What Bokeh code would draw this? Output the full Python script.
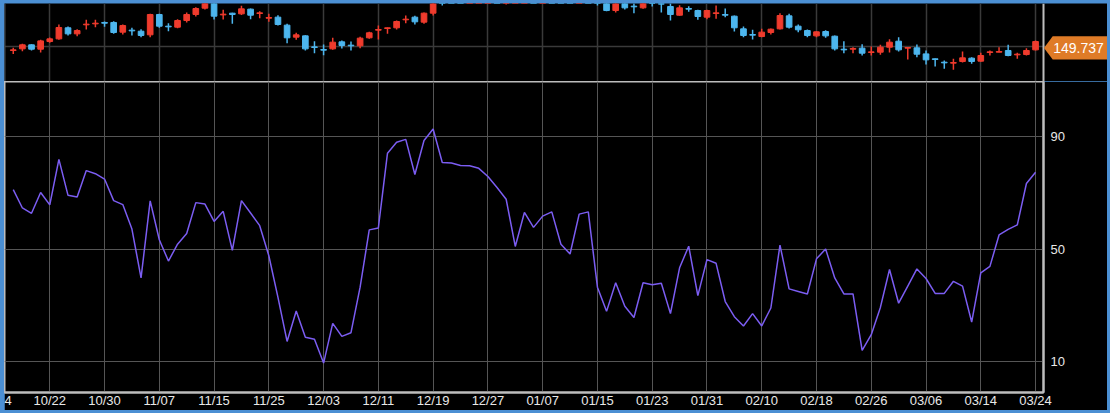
from bokeh.plotting import figure
from bokeh.layouts import column
from bokeh.models import Range1d, FixedTicker, PolyAnnotation, Label, ColumnDataSource, Span
from bokeh.embed import file_html
from bokeh.resources import INLINE

# ---------------- data ----------------
opens = [149.34, 149.59, 150.21, 149.54, 150.72, 151.13, 152.83, 151.90, 153.29, 153.44,
         153.65, 153.65, 152.16, 152.47, 152.31, 151.75, 154.88, 153.08, 152.93, 153.95,
         154.88, 155.85, 156.90, 154.82, 155.08, 154.98, 155.70, 155.03, 154.31, 154.47,
         153.24, 151.39, 151.59, 149.90, 149.49, 149.59, 150.67, 150.16, 150.06, 151.29,
         152.47, 152.72, 152.83, 154.06, 154.47, 153.70, 155.08, 157.90, 157.50, 157.30,
         157.20, 157.30, 157.50, 157.90, 157.20, 157.40, 157.80, 158.00, 157.80, 158.20,
         158.00, 157.70, 157.50, 157.90, 157.90, 156.62, 155.49, 156.62, 156.16, 155.90,
         156.67, 156.57, 156.11, 154.77, 155.80, 155.49, 154.47, 155.03, 154.88, 154.62,
         152.67, 151.80, 151.49, 152.11, 152.67, 154.67, 153.08, 152.41, 151.59, 152.26,
         151.54, 149.54, 149.54, 149.70, 149.03, 149.08, 149.85, 150.77, 149.70, 149.75,
         148.82, 148.06, 147.54, 147.39, 147.65, 148.16, 147.70, 149.03, 149.08, 149.34,
         148.67, 148.72, 149.44]
highs = [149.75, 150.36, 150.31, 150.98, 151.34, 153.34, 153.03, 152.62, 154.06, 154.06,
         153.80, 153.85, 153.34, 152.83, 152.62, 154.98, 154.98, 153.54, 154.16, 155.18,
         156.00, 157.29, 157.30, 155.59, 155.13, 156.21, 155.80, 155.39, 154.98, 154.77,
         153.44, 152.06, 151.70, 150.77, 150.26, 151.29, 150.88, 150.72, 151.44, 152.21,
         153.18, 152.88, 153.95, 154.72, 154.67, 155.18, 156.77, 158.00, 157.90, 157.60,
         157.40, 157.60, 158.00, 158.10, 157.60, 157.90, 158.30, 158.40, 158.40, 158.50,
         158.80, 158.00, 158.10, 158.20, 158.20, 157.18, 156.82, 156.88, 156.62, 156.93,
         157.13, 156.62, 156.62, 156.31, 156.16, 155.59, 155.59, 156.26, 155.80, 154.72,
         153.03, 152.52, 152.67, 152.72, 155.08, 154.98, 153.34, 152.57, 152.31, 152.47,
         151.65, 150.77, 149.85, 150.31, 149.95, 150.21, 151.08, 151.39, 149.85, 150.26,
         149.34, 148.11, 147.80, 148.06, 149.18, 148.31, 148.98, 149.34, 149.85, 150.21,
         148.98, 149.70, 150.88]
lows = [148.82, 149.24, 149.34, 149.03, 150.52, 150.98, 151.65, 151.54, 152.57, 152.93,
        152.98, 151.90, 151.80, 151.65, 151.39, 151.39, 152.83, 152.31, 152.77, 153.65,
        154.57, 155.65, 154.11, 154.11, 153.44, 154.82, 154.16, 154.31, 153.75, 153.18,
        150.47, 150.98, 149.34, 148.93, 148.62, 149.44, 149.65, 149.34, 149.70, 151.13,
        151.03, 151.90, 152.57, 153.54, 153.34, 153.44, 154.72, 156.26, 157.20, 157.10,
        157.10, 157.20, 157.30, 157.30, 156.41, 157.20, 157.50, 157.60, 157.60, 157.80,
        157.30, 157.20, 157.30, 157.20, 156.26, 155.39, 155.18, 155.65, 155.08, 155.75,
        156.11, 155.18, 153.95, 154.67, 155.29, 154.06, 154.16, 154.21, 154.47, 152.26,
        151.39, 151.03, 151.39, 151.80, 152.57, 152.72, 152.16, 151.39, 151.39, 151.29,
        149.34, 148.93, 148.93, 148.57, 148.57, 148.67, 149.03, 149.18, 147.95, 148.31,
        147.18, 146.88, 146.52, 146.36, 147.49, 147.29, 147.59, 148.57, 149.08, 148.47,
        148.06, 148.57, 149.34]
closes = [149.44, 150.21, 149.54, 150.82, 151.13, 152.88, 151.90, 152.41, 153.39, 153.54,
          153.54, 152.11, 153.18, 152.36, 151.65, 154.88, 153.08, 152.98, 153.95, 154.88,
          155.80, 156.62, 154.62, 154.93, 154.88, 155.75, 154.77, 155.13, 154.41, 153.34,
          151.29, 151.75, 149.59, 149.80, 149.39, 150.62, 150.11, 150.06, 151.24, 152.06,
          152.57, 152.83, 153.80, 154.16, 153.75, 155.08, 156.52, 157.30, 157.30, 157.20,
          157.30, 157.50, 157.90, 157.60, 157.40, 157.80, 158.00, 157.80, 158.20, 158.00,
          157.70, 157.50, 157.90, 157.30, 157.20, 155.49, 156.52, 155.90, 156.06, 156.62,
          156.57, 156.47, 154.88, 155.90, 155.70, 154.57, 155.49, 155.13, 154.77, 152.83,
          151.65, 151.70, 152.16, 152.62, 154.72, 152.93, 152.52, 151.65, 152.21, 151.59,
          149.59, 149.44, 149.65, 148.93, 149.13, 149.85, 150.62, 149.44, 149.80, 148.77,
          147.90, 147.95, 147.44, 147.49, 148.21, 147.65, 148.57, 149.13, 149.18, 148.57,
          148.77, 149.34, 150.72]
oscillator = [71.2, 64.7, 62.8, 70.2, 65.8, 82.0, 69.2, 68.6, 78.0, 76.9,
              75.0, 67.3, 65.9, 57.2, 39.8, 67.2, 53.4, 45.8, 51.8, 55.6,
              66.6, 66.1, 59.9, 63.5, 49.6, 67.3, 62.9, 58.4, 47.7, 32.9,
              17.2, 28.0, 18.7, 18.0, 9.5, 23.6, 19.0, 20.3, 36.5, 56.9,
              57.6, 84.2, 88.1, 89.1, 76.6, 88.7, 92.8, 80.9, 80.7, 79.8,
              79.7, 78.8, 75.9, 72.0, 67.8, 51.0, 63.1, 57.8, 61.8, 63.3,
              51.8, 48.3, 62.5, 63.3, 36.5, 27.9, 38.1, 29.7, 25.7, 38.1,
              37.4, 37.9, 27.1, 43.4, 51.1, 33.5, 46.3, 45.0, 31.4, 26.0,
              22.7, 27.1, 22.7, 29.1, 51.5, 35.9, 35.0, 34.1, 46.6, 50.1,
              39.8, 34.1, 34.1, 14.0, 19.6, 29.3, 42.8, 30.8, 36.9, 43.0,
              39.6, 34.3, 34.3, 38.6, 36.9, 24.1, 41.6, 43.9, 55.1, 57.1,
              58.7, 73.4, 77.4]
tick_index = [4, 10, 16, 22, 28, 34, 40, 46, 52, 58, 64, 70, 76, 82, 88, 94, 100, 106, 112]
tick_labels = ["10/22", "10/30", "11/07", "11/15", "11/25", "12/03", "12/11", "12/19", "12/27",
               "01/07", "01/15", "01/23", "01/31", "02/10", "02/18", "02/26", "03/06", "03/14", "03/24"]
cut_label_pos = -0.63      # tail of the clipped "10/14" label at the left edge
cut_label_text = "4"
osc_ticks = [10, 50, 90]
price_grid = [150]
last_price = 149.737

# ---------------- style ----------------
RED = "#ef3b2d"
BLUE = "#4db6ee"
PURPLE = "#7b5df2"
FRAME_BLUE = "#4b8fd3"
ORANGE = "#df7b27"
LIGHT = "#bdbdbd"
TXT = "#e8e8e8"
FONT = "Liberation Sans"

n = len(closes)
idx = list(range(n))
colors = [RED if c >= o else BLUE for o, c in zip(opens, closes)]
src = ColumnDataSource(dict(
    x=idx, o=opens, h=highs, l=lows, c=closes,
    top=[max(o, c) for o, c in zip(opens, closes)],
    bot=[min(o, c) for o, c in zip(opens, closes)],
    col=colors,
))

x_start, x_end = -0.96, 112.87
frame_w = 1039
border_r = 64
ppu = frame_w / (x_end - x_start)
x_range = Range1d(x_start, x_end)
x_range_top = Range1d(x_start, x_start + (frame_w + border_r) / ppu)  # same scale, frame reaches right edge

# ---------------- top (price) panel ----------------
py0, py1 = 144.57, 156.57
p1 = figure(width=frame_w + border_r, height=78, x_range=x_range_top, y_range=Range1d(py0, py1),
            output_backend="svg", toolbar_location=None,
            x_axis_location=None, y_axis_location=None,
            min_border_left=0, min_border_right=0, min_border_top=0, min_border_bottom=0,
            background_fill_color="black", border_fill_color="black",
            outline_line_color=None, margin=(3, 3, 0, 4), frame_align=False)
p1.xgrid.ticker = FixedTicker(ticks=tick_index)
p1.xgrid.grid_line_color = "#3a3a3a"
p1.xgrid.grid_line_width = 1.5
p1.ygrid.ticker = FixedTicker(ticks=price_grid)
p1.ygrid.grid_line_color = "#3a3a3a"
p1.ygrid.grid_line_width = 1.5
p1.add_layout(Span(location=x_start, dimension="height", line_color="#4a4a4a", line_width=2))
p1.add_layout(Span(location=x_end, dimension="height", line_color=LIGHT, line_width=2))

p1.segment(x0="x", y0="l", x1="x", y1="h", color="col", line_width=1.5, source=src)
p1.vbar(x="x", width=0.62, top="top", bottom="bot", fill_color="col", line_color="col",
        line_width=1, source=src)

ppy = 78 / (py1 - py0)
half = 11.6 / ppy
tip = x_end + 0.5 / ppu
b0 = tip + 8.7 / ppu
b1 = x_range_top.end + 1
p1.add_layout(PolyAnnotation(xs=[tip, b0, b1, b1, b0],
                             ys=[last_price, last_price + half, last_price + half,
                                 last_price - half, last_price - half],
                             fill_color=ORANGE, fill_alpha=1, line_color=None))
p1.add_layout(Label(x=x_end + 35 / ppu, y=last_price, text=f"{last_price:.3f}",
                    text_align="center", text_baseline="middle", text_color="white",
                    text_font=FONT, text_font_size="14px"))

# ---------------- bottom (oscillator) panel ----------------
p2 = figure(width=frame_w + border_r, height=329, x_range=x_range, y_range=Range1d(-0.98, 109.71),
            output_backend="svg", toolbar_location=None,
            x_axis_location="below", y_axis_location="right",
            min_border_left=0, min_border_right=border_r, min_border_top=0, min_border_bottom=16,
            background_fill_color="black", border_fill_color="black",
            outline_line_color=LIGHT, outline_line_width=2, margin=(0, 3, 3, 4),
            frame_align=False)
p2.line(idx, oscillator, color=PURPLE, line_width=1.5)

overrides = {t: s for t, s in zip(tick_index, tick_labels)}
overrides[cut_label_pos] = cut_label_text
p2.xaxis.ticker = FixedTicker(ticks=[cut_label_pos] + tick_index)
p2.xaxis.major_label_overrides = overrides
p2.yaxis.ticker = FixedTicker(ticks=osc_ticks)
for ax in (p2.xaxis, p2.yaxis):
    ax.major_tick_line_color = None
    ax.minor_tick_line_color = None
    ax.major_tick_out = 0
    ax.major_tick_in = 0
    ax.minor_tick_out = 0
    ax.minor_tick_in = 0
    ax.axis_label_standoff = 0
    ax.axis_line_color = LIGHT
    ax.axis_line_width = 2
    ax.major_label_text_color = TXT
    ax.major_label_text_font = FONT
    ax.major_label_text_font_size = "13px"
p2.xaxis.major_label_standoff = 0
p2.yaxis.major_label_standoff = 7
p2.xgrid.ticker = FixedTicker(ticks=tick_index)
p2.xgrid.grid_line_color = "#555555"
p2.ygrid.grid_line_color = "#555555"

layout = column(p1, p2, spacing=0,
                styles={"position": "absolute", "left": "0px", "top": "0px",
                        "background-color": FRAME_BLUE})

open("out.html", "w").write(file_html(layout, INLINE))
